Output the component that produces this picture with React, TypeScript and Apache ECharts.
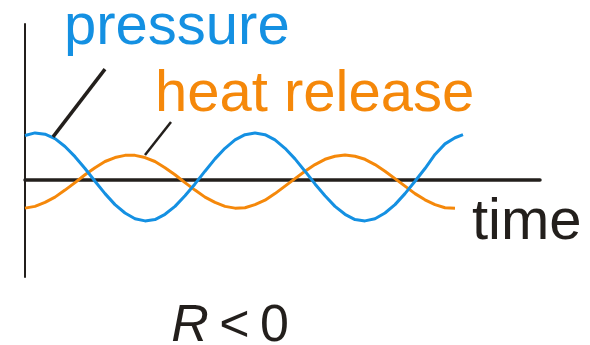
import React, { useEffect, useRef } from "react";
import * as echarts from "echarts";

// time samples (arbitrary units)
const times = [0,1,2,3,4,5,6,7,8,9,10,11,12,13,14,15,16,17,18,19,20,21,22,23,24,25,26,27,28,29,30,31,32,33,34,35,36,37,38,39,40,41,42,43];
const pressureTimes = [...times, 43.8];
const pressure = [1.01,1.07,1.04,0.94,0.76,0.53,0.26,-0.03,-0.31,-0.56,-0.75,-0.88,-0.93,-0.90,-0.78,-0.60,-0.36,-0.09,0.20,0.48,0.72,0.91,1.03,1.07,1.03,0.91,0.72,0.48,0.20,-0.09,-0.36,-0.60,-0.78,-0.90,-0.93,-0.88,-0.75,-0.56,-0.31,-0.03,0.26,0.58,0.82,0.96,1.03];
const heatRelease = [-0.64,-0.60,-0.51,-0.39,-0.23,-0.06,0.12,0.28,0.42,0.51,0.56,0.56,0.51,0.42,0.28,0.12,-0.06,-0.23,-0.39,-0.51,-0.60,-0.64,-0.63,-0.56,-0.46,-0.31,-0.14,0.03,0.20,0.35,0.47,0.54,0.57,0.54,0.47,0.35,0.20,0.03,-0.14,-0.31,-0.45,-0.56,-0.63,-0.64];

// leader lines (data coords): [from, to]
const pressureLeader = [[8, 2.52], [2.8, 0.98]];
const heatLeader = [[14.6, 1.32], [12.0, 0.57]];

const BLUE = "#1490e2";
const ORANGE = "#f5880a";
const INK = "#231f1c";
const FONT = "Liberation Sans, Arial, sans-serif";

export default function App() {
  const ref = useRef<HTMLDivElement>(null);
  useEffect(() => {
    if (!ref.current) return;
    const chart = echarts.init(ref.current, undefined, { renderer: "svg" });
    chart.setOption({
      animation: false,
      grid: { left: 25, right: 50, top: 24, bottom: 68 },
      xAxis: {
        type: "value",
        min: 0,
        max: 51.5,
        axisLine: { onZero: true, lineStyle: { color: INK, width: 3.5 } },
        axisTick: { show: false },
        axisLabel: { show: false },
        splitLine: { show: false },
      },
      yAxis: {
        type: "value",
        min: -2.205,
        max: 3.545,
        axisLine: { show: true, onZero: false, lineStyle: { color: INK, width: 2 } },
        axisTick: { show: false },
        axisLabel: { show: false },
        splitLine: { show: false },
      },
      series: [
        {
          type: "line",
          name: "heat release",
          data: times.map((t, i) => [t, heatRelease[i]]),
          showSymbol: false,
          lineStyle: { color: ORANGE, width: 3 },
          z: 3,
          markLine: {
            silent: true,
            symbol: "none",
            label: { show: false },
            lineStyle: { color: INK, width: 2.5, type: "solid" },
            data: [[{ coord: heatLeader[0] }, { coord: heatLeader[1] }]],
          },
        },
        {
          type: "line",
          name: "pressure",
          data: pressureTimes.map((t, i) => [t, pressure[i]]),
          showSymbol: false,
          lineStyle: { color: BLUE, width: 3 },
          z: 4,
          markLine: {
            silent: true,
            symbol: "none",
            label: { show: false },
            lineStyle: { color: INK, width: 3.5, type: "solid" },
            data: [[{ coord: pressureLeader[0] }, { coord: pressureLeader[1] }]],
          },
        },
      ],
      graphic: [
        {
          type: "text",
          x: 64,
          y: 3,
          style: { text: "pressure", fill: BLUE, font: `58px ${FONT}`, lineHeight: 40, verticalAlign: "top" },
        },
        {
          type: "text",
          x: 155,
          y: 61,
          style: { text: "heat release", fill: ORANGE, font: `58px ${FONT}`, verticalAlign: "top" },
        },
        {
          type: "text",
          x: 472,
          y: 189,
          style: { text: "time", fill: INK, font: `58px ${FONT}`, verticalAlign: "top" },
        },
        {
          type: "text",
          x: 230,
          y: 301,
          style: {
            text: "{i|R}\u2009<\u20090",
            align: "center",
            verticalAlign: "top",
            fill: INK,
            font: `52px ${FONT}`,
            lineHeight: 44,
            rich: {
              i: { fontStyle: "italic", fontSize: 52, fontFamily: FONT, fill: INK, lineHeight: 44 },
            },
          },
        },
      ],
    });
    return () => chart.dispose();
  }, []);
  return <div ref={ref} style={{ width: 590, height: 345, position: "absolute", left: 0, top: 0 }} />;
}
